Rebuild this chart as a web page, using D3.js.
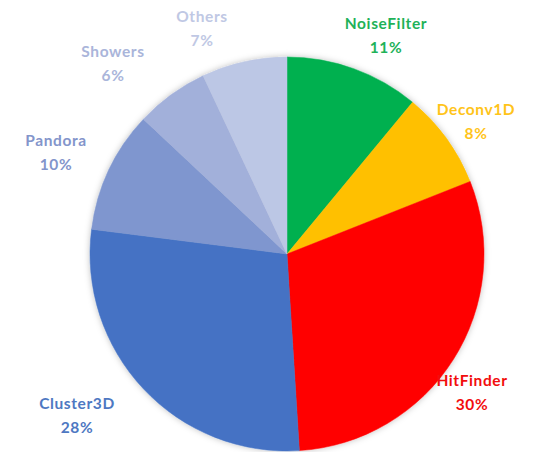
<!DOCTYPE html>
<html>
<head>
<meta charset="utf-8">
<script src="https://cdn.jsdelivr.net/npm/d3@7"></script>
<style>
  html, body { margin: 0; padding: 0; background: #fff; }
  svg { display: block; }
  text { font-family: Lato, "Open Sans", sans-serif; font-weight: 700; }
</style>
</head>
<body>
<svg id="chart" width="556" height="452"></svg>
<script>
// Share of processing time per reconstruction stage (percent)
const stages = ["NoiseFilter", "Deconv1D", "HitFinder", "Cluster3D", "Pandora", "Showers", "Others"];
const shares = [11, 8, 30, 28, 10, 6, 7];
const sliceColors = ["#00B050", "#FFC000", "#FF0000", "#4472C4", "#7F96CF", "#A2B0DA", "#BCC7E5"];
const labelColors = ["#1FB259", "#FFC41A", "#F20D0D", "#4E78C2", "#8395CB", "#AAB5DA", "#C0C8E4"];
// label anchor points (centre of the name line)
const labelX = [386, 476, 472, 77, 56, 113, 202];
const labelY = [24, 110, 381, 404, 141, 52, 17];

const svg = d3.select("#chart");
const cx = 287, cy = 254, r = 197;

const defs = svg.append("defs");
const shadow = defs.append("filter").attr("id", "soft").attr("x", "-10%").attr("y", "-10%").attr("width", "120%").attr("height", "120%");
shadow.append("feDropShadow").attr("dx", 0).attr("dy", 0).attr("stdDeviation", 3)
  .attr("flood-color", "#000").attr("flood-opacity", 0.25);

const data = stages.map((s, i) => ({ name: s, value: shares[i], color: sliceColors[i], text: labelColors[i], lx: labelX[i], ly: labelY[i] }));

const pie = d3.pie().value(d => d.value).sort(null);
const arc = d3.arc().innerRadius(0).outerRadius(r);

const g = svg.append("g").attr("transform", `translate(${cx},${cy})`).attr("filter", "url(#soft)");
g.selectAll("path")
  .data(pie(data))
  .join("path")
  .attr("d", arc)
  .attr("fill", d => d.data.color)
  .attr("stroke", d => d.data.color)
  .attr("stroke-width", 0.5);

const labels = svg.append("g").selectAll("text")
  .data(data)
  .join("text")
  .attr("text-anchor", "middle")
  .attr("font-size", 15.5)
  .attr("letter-spacing", 0.6)
  .attr("fill", d => d.text);

labels.append("tspan")
  .attr("x", d => d.lx)
  .attr("y", d => d.ly)
  .attr("dy", "0.35em")
  .text(d => d.name);
labels.append("tspan")
  .attr("x", d => d.lx)
  .attr("y", d => d.ly + 23.5)
  .attr("dy", "0.35em")
  .text(d => d.value + "%");
</script>
</body>
</html>
